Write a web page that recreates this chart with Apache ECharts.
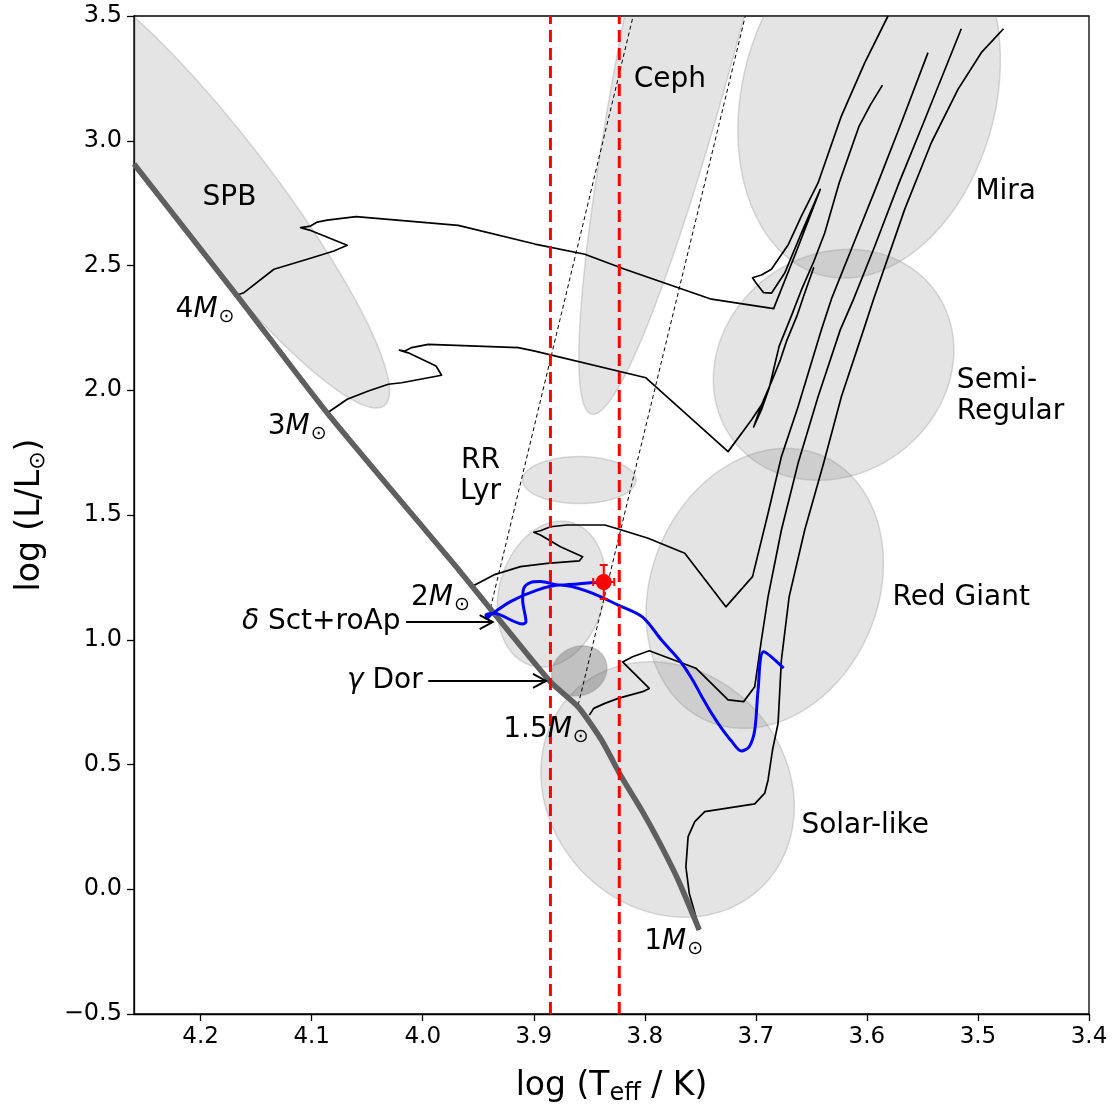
<!DOCTYPE html>
<html><head><meta charset="utf-8">
<script src="https://cdn.jsdelivr.net/npm/echarts@6/dist/echarts.min.js"></script>
<style>html,body{margin:0;padding:0;background:#fff}#c{width:1113px;height:1104px}</style>
</head><body><div id="c"></div>
<script>
const FONT = "'DejaVu Sans', sans-serif";

// ---------- axis ticks ----------
const xTickValues = [3.4, 3.5, 3.6, 3.7, 3.8, 3.9, 4.0, 4.1, 4.2];
const yTickValues = [-0.5, 0, 0.5, 1.0, 1.5, 2.0, 2.5, 3.0, 3.5];

// ---------- ZAMS ----------
const zams = [[4.260,2.907],[4.167,2.378],[4.086,1.909],[3.966,1.272],[3.936,1.107],[3.885,0.831],[3.860,0.731],[3.839,0.598],[3.821,0.450],[3.803,0.318],[3.788,0.197],[3.770,0.037],[3.751,-0.163]];

// ---------- evolutionary tracks ----------
const track4M = [[4.170,2.378],[4.161,2.391],[4.134,2.485],[4.104,2.525],[4.080,2.558],[4.068,2.581],[4.102,2.642],[4.110,2.652],[4.101,2.658],[4.095,2.674],[4.086,2.682],[4.060,2.696],[3.968,2.661],[3.899,2.586],[3.854,2.545],[3.818,2.485],[3.740,2.365],[3.684,2.327],[3.663,2.562],[3.642,2.805],[3.659,2.630],[3.674,2.470],[3.686,2.389],[3.693,2.391],[3.700,2.431],[3.703,2.451],[3.695,2.462],[3.686,2.485],[3.671,2.582],[3.659,2.698],[3.644,2.831],[3.623,3.099],[3.602,3.312],[3.581,3.500]];
const track3M = [[4.086,1.909],[4.068,1.964],[4.049,1.997],[4.031,2.024],[4.019,2.030],[3.983,2.060],[3.988,2.097],[4.013,2.150],[4.021,2.161],[4.016,2.157],[4.010,2.171],[3.995,2.184],[3.914,2.171],[3.899,2.157],[3.799,2.050],[3.725,1.754],[3.704,1.881],[3.695,1.941],[3.686,2.033],[3.678,2.121],[3.672,2.201],[3.663,2.298],[3.656,2.390],[3.648,2.490],[3.656,2.390],[3.663,2.298],[3.672,2.201],[3.678,2.121],[3.686,2.033],[3.695,1.941],[3.702,1.853],[3.695,1.921],[3.688,2.009],[3.679,2.177],[3.668,2.298],[3.659,2.402],[3.648,2.514],[3.638,2.630],[3.625,2.831],[3.607,3.059],[3.597,3.143],[3.586,3.223]];
const track2M = [[3.957,1.210],[3.936,1.260],[3.912,1.293],[3.888,1.306],[3.859,1.316],[3.856,1.333],[3.876,1.373],[3.894,1.420],[3.900,1.431],[3.894,1.437],[3.885,1.453],[3.870,1.460],[3.836,1.460],[3.821,1.440],[3.797,1.407],[3.764,1.347],[3.727,1.132],[3.703,1.253],[3.689,1.507],[3.677,1.734],[3.662,1.934],[3.641,2.242],[3.632,2.365],[3.614,2.565],[3.590,2.832],[3.569,3.072],[3.545,3.353]];
const track15M = [[3.850,0.698],[3.846,0.725],[3.836,0.745],[3.824,0.765],[3.802,0.792],[3.796,0.805],[3.820,0.911],[3.811,0.932],[3.796,0.956],[3.754,0.886],[3.725,0.759],[3.711,0.752],[3.701,0.812],[3.695,0.999],[3.689,1.173],[3.677,1.440],[3.662,1.707],[3.644,1.974],[3.624,2.242],[3.612,2.365],[3.594,2.565],[3.571,2.832],[3.549,3.072],[3.515,3.449]];
const track1M = [[3.751,-0.163],[3.754,-0.110],[3.760,-0.016],[3.763,0.090],[3.761,0.211],[3.755,0.271],[3.746,0.311],[3.701,0.342],[3.692,0.385],[3.689,0.438],[3.685,0.558],[3.680,0.665],[3.677,0.919],[3.670,1.173],[3.656,1.440],[3.639,1.707],[3.623,1.974],[3.603,2.242],[3.594,2.365],[3.566,2.725],[3.542,2.992],[3.518,3.206],[3.497,3.353],[3.477,3.449]];
const bestTrack = [[3.837,1.2315],[3.847,1.229],[3.876,1.219],[3.894,1.233],[3.903,1.229],[3.909,1.206],[3.910,1.159],[3.907,1.072],[3.910,1.063],[3.936,1.106],[3.943,1.099],[3.942,1.086],[3.939,1.099],[3.921,1.153],[3.897,1.199],[3.876,1.219],[3.851,1.193],[3.824,1.139],[3.802,1.091],[3.785,0.999],[3.769,0.919],[3.758,0.847],[3.749,0.775],[3.740,0.706],[3.731,0.646],[3.722,0.594],[3.713,0.554],[3.706,0.571],[3.701,0.638],[3.698,0.799],[3.693,0.952],[3.675,0.886]];

// ---------- instability strip edges ----------
const stripBlueEdge = [[3.939,1.127],[3.8105,3.5]];
const stripRedEdge = [[3.860,0.7385],[3.7095,3.5]];

// ---------- Teff bounds & star ----------
const teffBounds = [3.885, 3.823];
const starTeff = [3.837], starTeffErr = [0.0095], starLogL = [1.2315], starLogLErr = [0.068];

// ---------- pulsator regions: [cx, cy, ux, uy, vx, vy] (data units) ----------
const ellSPB = [4.1836, 2.8026, -0.0596, 0, -0.1417, -0.8737];
const ellCeph = [3.730, 4.169, -0.1178, 2.2645, -0.0536, -0.0549];
const ellMira = [3.598, 3.183, -0.1182, 0.1403, 0, -0.7198];
const ellSemiReg = [3.630, 2.102, -0.1083, 0.0589, 0, -0.4589];
const ellRedGiant = [3.692, 1.206, -0.1069, 0.1002, 0, -0.5519];
const ellSolar = [3.7795, 0.3998, -0.1141, -0.0689, 0, -0.5074];
const ellRRLyr = [3.859, 1.640, -0.0510, 0, 0, -0.0942];
const ellDSct = [3.884, 1.183, -0.0489, 0.0521, 0, -0.2878];
const ellGDor = [3.859, 0.875, -0.0250, 0.0120, 0, -0.1000];

// ---------- text labels ----------
const massLabels = [['4', 4.196, 2.322], ['3', 4.113, 1.853], ['2', 3.984, 1.167], ['1.5', 3.889, 0.638], ['1', 3.774, -0.211]];
const regionLabels = [['SPB', 4.174, 2.771, 'center'], ['Ceph', 3.810, 3.245, 'left'], ['Mira', 3.475, 2.795, 'center'], ['Semi-\nRegular', 3.519, 1.975, 'left'], ['Red Giant', 3.577, 1.167, 'left'], ['Solar-like', 3.659, 0.253, 'left'], ['RR\nLyr', 3.948, 1.654, 'center']];
const arrowLabels = [['{g|δ} Sct+roAp', 4.020, 1.071, 4.015, 3.937], ['{g|γ} Dor', 4.000, 0.835, 3.995, 3.889]];

// ================= build =================
const chart = echarts.init(document.getElementById('c'));

const regions = [
  { p: ellSPB, fill: 'rgba(128,128,128,0.21)' },
  { p: ellCeph, fill: 'rgba(128,128,128,0.21)' },
  { p: ellMira, fill: 'rgba(128,128,128,0.21)' },
  { p: ellSemiReg, fill: 'rgba(128,128,128,0.21)' },
  { p: ellRedGiant, fill: 'rgba(128,128,128,0.21)' },
  { p: ellSolar, fill: 'rgba(128,128,128,0.21)' },
  { p: ellRRLyr, fill: 'rgba(128,128,128,0.21)' },
  { p: ellDSct, fill: 'rgba(128,128,128,0.21)' },
  { p: ellGDor, fill: 'rgba(100,100,100,0.40)' }
];

function lineS(data, color, width, z, dash, smooth) {
  return { type: 'line', data: data, showSymbol: false, symbol: 'none', silent: true, z: z, clip: true, smooth: smooth || false,
    lineStyle: { color: color, width: width, type: dash || 'solid', cap: 'butt', join: 'round' } };
}

const series = [];
series.push({
  type: 'custom', z: 1, silent: true, clip: true,
  data: regions.map((r, i) => [r.p[0], r.p[1], i]),
  renderItem: function (params, api) {
    const r = regions[params.dataIndex], p = r.p, pts = [];
    for (let k = 0; k < 240; k++) {
      const t = k / 240 * 2 * Math.PI;
      pts.push(api.coord([p[0] + p[2] * Math.cos(t) + p[4] * Math.sin(t), p[1] + p[3] * Math.cos(t) + p[5] * Math.sin(t)]));
    }
    const cs = params.coordSys;
    return { type: 'group', children: [{ type: 'polygon', shape: { points: pts },
      style: { fill: r.fill, stroke: 'rgba(128,128,128,0.28)', lineWidth: 1.5 } }],
      clipPath: { type: 'rect', shape: { x: cs.x, y: cs.y, width: cs.width, height: cs.height } } };
  }
});
series.push(lineS(stripBlueEdge, '#000', 1, 2, [4, 3]));
series.push(lineS(stripRedEdge, '#000', 1, 2, [4, 3]));
[track4M, track3M, track2M, track15M, track1M].forEach(t => series.push(lineS(t, '#000', 1.7, 3)));
series.push(lineS(zams, '#5f5f5f', 5.5, 4, null, 0.2));
series.push(lineS(bestTrack, '#0000ff', 3, 5, null, 0.3));
teffBounds.forEach(x => series.push(lineS([[x, -0.5], [x, 3.5]], '#ff0000', 3, 6, [12, 6])));

// error bars + star
series.push({
  type: 'custom', z: 7, silent: true,
  data: starTeff.map((t, i) => [t, starLogL[i], starTeffErr[i], starLogLErr[i]]),
  renderItem: function (params, api) {
    const x = api.value(0), y = api.value(1), ex = api.value(2), ey = api.value(3);
    const l = api.coord([x + ex, y]), r = api.coord([x - ex, y]), b = api.coord([x, y - ey]), t = api.coord([x, y + ey]);
    const st = { stroke: '#ff0000', lineWidth: 2 };
    const c = 4;
    return { type: 'group', children: [
      { type: 'line', shape: { x1: l[0], y1: l[1], x2: r[0], y2: r[1] }, style: st },
      { type: 'line', shape: { x1: b[0], y1: b[1], x2: t[0], y2: t[1] }, style: st },
      { type: 'line', shape: { x1: l[0], y1: l[1] - c, x2: l[0], y2: l[1] + c }, style: st },
      { type: 'line', shape: { x1: r[0], y1: r[1] - c, x2: r[0], y2: r[1] + c }, style: st },
      { type: 'line', shape: { x1: b[0] - c, y1: b[1], x2: b[0] + c, y2: b[1] }, style: st },
      { type: 'line', shape: { x1: t[0] - c, y1: t[1], x2: t[0] + c, y2: t[1] }, style: st }
    ] };
  }
});
series.push({ type: 'scatter', z: 8, silent: true, symbolSize: 16, itemStyle: { color: '#ff0000', opacity: 1 },
  data: starTeff.map((t, i) => [t, starLogL[i]]) });

// arrows
series.push({
  type: 'custom', z: 8, silent: true,
  data: arrowLabels.map(a => [a[3], a[2], a[4]]),
  renderItem: function (params, api) {
    const p0 = api.coord([api.value(0), api.value(1)]), p1 = api.coord([api.value(2), api.value(1)]);
    const dx = p1[0] - p0[0], dy = p1[1] - p0[1], L = Math.hypot(dx, dy), ux = dx / L, uy = dy / L;
    const hl = 13, hw = 7;
    const st = { stroke: '#000', lineWidth: 2, fill: 'none' };
    return { type: 'group', children: [
      { type: 'line', shape: { x1: p0[0], y1: p0[1], x2: p1[0], y2: p1[1] }, style: st },
      { type: 'polyline', shape: { points: [[p1[0] - ux * hl - uy * hw, p1[1] - uy * hl + ux * hw], [p1[0], p1[1]], [p1[0] - ux * hl + uy * hw, p1[1] - uy * hl - ux * hw]] }, style: st }
    ] };
  }
});

// labels
const richBase = {
  n: { fontSize: 28, fontFamily: FONT, color: '#000' },
  m: { fontSize: 28, fontFamily: FONT, fontStyle: 'italic', color: '#000' },
  s: { fontSize: 19, fontFamily: FONT, color: '#000', padding: [14, 0, 0, 1] },
  g: { fontSize: 28, fontFamily: FONT, fontStyle: 'italic', color: '#000' }
};
const labelData = [];
massLabels.forEach(m => labelData.push({ value: [m[1], m[2]], label: { formatter: '{n|' + m[0] + '}{m|M}{s|⊙}', align: 'center' } }));
regionLabels.forEach(r => labelData.push({ value: [r[1], r[2]], label: { formatter: r[0], align: r[3] } }));
arrowLabels.forEach(a => labelData.push({ value: [a[1], a[2]], label: { formatter: a[0], align: 'right' } }));
series.push({
  type: 'scatter', z: 9, silent: true, symbolSize: 1, itemStyle: { color: 'rgba(0,0,0,0)', opacity: 1 },
  data: labelData,
  label: { show: true, position: 'inside', verticalAlign: 'middle', fontSize: 28, fontFamily: FONT, color: '#000', opacity: 1, lineHeight: 31, rich: richBase }
});

chart.setOption({
  animation: false,
  backgroundColor: '#fff',
  grid: { left: 134, right: 24, top: 16, bottom: 90, containLabel: false, outerBoundsMode: 'none', show: true, borderColor: '#000', borderWidth: 1.3, backgroundColor: 'transparent' },
  xAxis: {
    type: 'value', min: 3.4, max: 4.26, interval: 0.1, inverse: true,
    name: 'log (T{sub|eff} / K)', nameLocation: 'middle', nameGap: 52,
    nameTextStyle: { fontSize: 33, fontFamily: FONT, color: '#000', rich: { sub: { fontSize: 24, fontFamily: FONT, color: '#000', padding: [16, 0, 0, 0] } } },
    axisLine: { show: true, onZero: false, lineStyle: { color: '#000', width: 1.3 } },
    axisTick: { show: true, length: 7, customValues: xTickValues, lineStyle: { color: '#000', width: 1.3 } },
    axisLabel: { fontSize: 23, fontFamily: FONT, color: '#000', margin: 12, customValues: xTickValues, formatter: v => v.toFixed(1) },
    splitLine: { show: false }
  },
  yAxis: {
    type: 'value', min: -0.5, max: 3.5, interval: 0.5,
    name: 'log (L/L{sub|⊙})', nameLocation: 'middle', nameGap: 85, nameRotate: 90,
    nameTextStyle: { fontSize: 33, fontFamily: FONT, color: '#000', rich: { sub: { fontSize: 22, fontFamily: FONT, color: '#000', padding: [16, 0, 0, 0] } } },
    axisLine: { show: true, onZero: false, lineStyle: { color: '#000', width: 1.3 } },
    axisTick: { show: true, length: 7, customValues: yTickValues, lineStyle: { color: '#000', width: 1.3 } },
    axisLabel: { fontSize: 24, fontFamily: FONT, color: '#000', margin: 12, customValues: yTickValues, formatter: v => (v < 0 ? '\u2212' : '') + Math.abs(v).toFixed(1) },
    splitLine: { show: false }
  },
  series: series
});
</script></body></html>
